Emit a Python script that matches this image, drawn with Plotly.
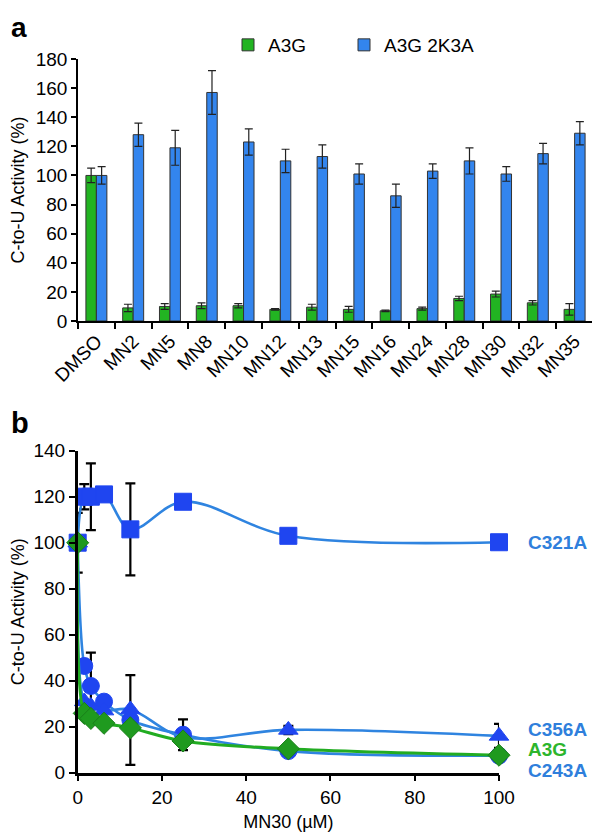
import plotly.graph_objects as go

# ---------- Panel a data ----------
compounds = ["DMSO", "MN2", "MN5", "MN8", "MN10", "MN12", "MN13", "MN15",
             "MN16", "MN24", "MN28", "MN30", "MN32", "MN35"]
a3g_vals = [100, 9, 10, 10.5, 10.5, 8, 9.5, 8, 7, 8.5, 15.5, 18.5, 12.5, 8]
a3g_err = [5, 2.5, 2, 2, 1.5, 0.5, 2, 2, 0.5, 1, 1.5, 2, 1.5, 4]
a3g2k3a_vals = [100, 128, 119, 157, 123, 110, 113, 101, 86, 103, 110, 101, 115, 129]
a3g2k3a_err = [6, 8, 12, 15, 9, 8, 8, 7, 8, 5, 9, 5, 7, 8]
a_yticks = [0, 20, 40, 60, 80, 100, 120, 140, 160, 180]

# ---------- Panel b data ----------
mn30_conc = [0, 1.5625, 3.125, 6.25, 12.5, 25, 50, 100]
c321a_vals = [100, 120, 120, 121, 105.8, 117.8, 103, 100.2]
c321a_err = [13, 5.5, 14.5, 0, 20, 0, 0, 0]
c243a_vals = [100, 46.4, 37.7, 30.9, 22.9, 16.5, 9.4, 7.4]
c243a_err = [0, 0, 14.5, 0, 19.5, 6.7, 0, 0]
c356a_vals = [100, 31, 29, 27, 27.5, 15.5, 18.6, 16]
c356a_err = [0, 0, 0, 0, 0, 0, 1.8, 5.2]
a3g_b_vals = [100, 25.8, 23.6, 21.5, 19.5, 13.8, 10.4, 7.6]
b_xticks = [0, 20, 40, 60, 80, 100]
b_yticks = [0, 20, 40, 60, 80, 100, 120, 140]

FONT = "Arial, Liberation Sans, Helvetica, sans-serif"
GREEN_BAR = "#22b422"
BLUE_BAR = "#3385ee"
LINE_BLUE = "#2f84e0"
MARK_BLUE = "#1f45f0"
LINE_GREEN = "#22ac22"
MARK_GREEN = "#1f9a1f"
LABEL_BLUE = "#2f7fdc"
LABEL_GREEN = "#2db52d"

# The page body adds an 8px offset; figure sized so it fits the window.
OFF = 8
W, H = 592, 831

def px_x(p):
    return (p - OFF) / W

def px_y(p):
    return 1 - (p - OFF) / H

fig = go.Figure()

# Panel a bars
fig.add_trace(go.Bar(
    x=compounds, y=a3g_vals, name="A3G", legend="legend",
    marker=dict(color=GREEN_BAR, line=dict(color="#333333", width=1)),
    error_y=dict(type="data", array=a3g_err, visible=True, color="#222222",
                 thickness=1.2, width=4),
    xaxis="x", yaxis="y",
))
fig.add_trace(go.Bar(
    x=compounds, y=a3g2k3a_vals, name="A3G 2K3A", legend="legend2",
    marker=dict(color=BLUE_BAR, line=dict(color="#333333", width=1)),
    error_y=dict(type="data", array=a3g2k3a_err, visible=True, color="#222222",
                 thickness=1.2, width=4),
    xaxis="x", yaxis="y",
))

# Panel b lines
def line_trace(yvals, err, symbol, line_color, mark_color, msize, name):
    return go.Scatter(
        x=mn30_conc, y=yvals, mode="lines+markers", name=name,
        line=dict(color=line_color, width=2.6, shape="spline", smoothing=1.0),
        marker=dict(symbol=symbol, size=msize, color=mark_color,
                    line=dict(color=mark_color, width=1)),
        error_y=dict(type="data", array=err, visible=True, color="black",
                     thickness=2.2, width=5),
        cliponaxis=False, showlegend=False,
        xaxis="x2", yaxis="y2",
    )

fig.add_trace(line_trace(c321a_vals, c321a_err, "square", LINE_BLUE, MARK_BLUE, 17, "C321A"))
fig.add_trace(line_trace(c243a_vals, c243a_err, "circle", LINE_BLUE, MARK_BLUE, 17, "C243A"))
fig.add_trace(line_trace(c356a_vals, c356a_err, "triangle-up", LINE_BLUE, MARK_BLUE, 17, "C356A"))
fig.add_trace(go.Scatter(
    x=mn30_conc, y=a3g_b_vals, mode="lines+markers", name="A3G",
    line=dict(color=LINE_GREEN, width=3, shape="spline", smoothing=1.0),
    marker=dict(symbol="diamond", size=17, color=MARK_GREEN,
                line=dict(color="#1a7f1a", width=1)),
    cliponaxis=False, showlegend=False, xaxis="x2", yaxis="y2",
))

FS = 19
axis_font = dict(family=FONT, size=FS, color="black")
title_font = dict(family=FONT, size=18, color="black")
leg_common = dict(orientation="h", yanchor="middle", xanchor="left",
                  font=dict(family=FONT, size=19, color="black"),
                  bgcolor="rgba(0,0,0,0)", itemclick=False, itemdoubleclick=False)

fig.update_layout(
    width=W, height=H,
    margin=dict(l=0, r=0, t=0, b=0, autoexpand=False),
    paper_bgcolor="white", plot_bgcolor="white",
    font=dict(family=FONT, size=FS, color="black"),
    barmode="group", bargap=0.43, bargroupgap=0,
    showlegend=True,
    legend=dict(x=px_x(228), y=px_y(45), **leg_common),
    legend2=dict(x=px_x(344), y=px_y(45), **leg_common),
    xaxis=dict(domain=[px_x(78), px_x(593)], anchor="y", automargin=False,
               tickangle=-45, tickson="boundaries", ticks="outside",
               ticklen=6, tickwidth=1.5, tickcolor="black",
               showline=True, linecolor="black", linewidth=1.5,
               showgrid=False, tickfont=axis_font),
    yaxis=dict(domain=[px_y(321), px_y(59)], anchor="x", range=[0, 180],
               automargin=False,
               tickvals=a_yticks, ticks="outside", ticklen=5, tickwidth=1.5,
               tickcolor="black", showline=True, linecolor="black", linewidth=1.5,
               showgrid=False, zeroline=False, tickfont=axis_font,
               title=dict(text="C-to-U Activity (%)", font=title_font, standoff=10)),
    xaxis2=dict(domain=[px_x(77.7), px_x(499)], anchor="y2", range=[0, 100],
                automargin=False,
                tickvals=b_xticks, ticks="outside", ticklen=6, tickwidth=2,
                tickcolor="black", showline=True, linecolor="black", linewidth=2.5,
                showgrid=False, zeroline=False, tickfont=axis_font,
                title=dict(text="MN30 (µM)", font=title_font, standoff=9)),
    yaxis2=dict(domain=[px_y(772.7), px_y(450.7)], anchor="x2", range=[0, 140],
                automargin=False,
                tickvals=b_yticks, ticks="outside", ticklen=6, tickwidth=2,
                tickcolor="black", showline=True, linecolor="black", linewidth=2.5,
                showgrid=False, zeroline=False, tickfont=axis_font,
                title=dict(text="C-to-U Activity (%)", font=title_font, standoff=10)),
)

annotations = [
    dict(text="<b>a</b>", x=px_x(9), y=px_y(10), xref="paper", yref="paper",
         xanchor="left", yanchor="top", showarrow=False,
         font=dict(family=FONT, size=28, color="black")),
    dict(text="<b>b</b>", x=px_x(9), y=px_y(423), xref="paper", yref="paper",
         xanchor="left", yanchor="middle", showarrow=False,
         font=dict(family=FONT, size=29, color="black")),
]
# Series labels at right end of panel b
end_labels = [
    ("C321A", LABEL_BLUE, 542),
    ("C356A", LABEL_BLUE, 729),
    ("A3G", LABEL_GREEN, 749),
    ("C243A", LABEL_BLUE, 770),
]
for name, col, ypx in end_labels:
    annotations.append(dict(
        text="<b>%s</b>" % name, x=px_x(526), y=px_y(ypx),
        xref="paper", yref="paper", xanchor="left", yanchor="middle",
        showarrow=False, font=dict(family=FONT, size=19, color=col)))
fig.update_layout(annotations=annotations)

fig.write_html("out.html")
